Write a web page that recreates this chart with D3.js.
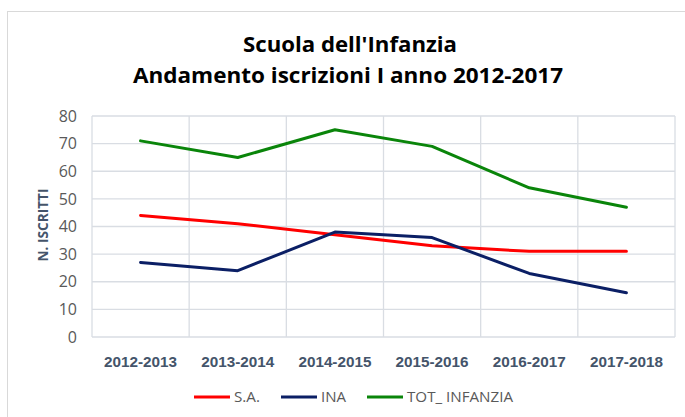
<!DOCTYPE html>
<html>
<head>
<meta charset="utf-8">
<script src="https://cdn.jsdelivr.net/npm/d3@7"></script>
<style>
  body { margin: 0; background: #fff; }
  svg { display: block; font-family: "Open Sans", "Noto Sans", sans-serif; }
</style>
</head>
<body>
<svg id="chart"></svg>
<script>
// data
const years = ['2012-2013','2013-2014','2014-2015','2015-2016','2016-2017','2017-2018']
const seriesNames = ['S.A.','INA','TOT_ INFANZIA']
const sa = [44, 41, 37, 33, 31, 31]
const ina = [27, 24, 38, 36, 23, 16]
const tot = [71, 65, 75, 69, 54, 47]
const yTicks = [0,10,20,30,40,50,60,70,80]
const colors = ['#ff0000', '#0b1f65', '#0a850a']

const W = 685, H = 417
const m = {left: 92, right: 675, top: 116, bottom: 337}

const svg = d3.select('#chart').attr('width', W).attr('height', H)

// outer chart frame
svg.append('rect')
  .attr('x', 7.5).attr('y', 11.5)
  .attr('width', W + 10).attr('height', H + 10)
  .attr('fill', 'none').attr('stroke', '#d9d9d9')

// titles
const title = svg.append('g').attr('font-weight', 'bold').attr('fill', '#000')
title.append('text').attr('x', 350).attr('y', 52)
  .attr('text-anchor', 'middle').attr('font-size', 22)
  .attr('textLength', 214).attr('lengthAdjust', 'spacingAndGlyphs')
  .text("Scuola dell'Infanzia")
title.append('text').attr('x', 348).attr('y', 83)
  .attr('text-anchor', 'middle').attr('font-size', 22)
  .attr('textLength', 430).attr('lengthAdjust', 'spacingAndGlyphs')
  .text('Andamento iscrizioni I anno 2012-2017')

const x = d3.scaleBand().domain(years).range([m.left, m.right])
const y = d3.scaleLinear().domain([0, 80]).range([m.bottom, m.top])

// grid
const grid = svg.append('g').attr('stroke', '#d9dde3').attr('stroke-width', 1.3)
grid.selectAll('.hg').data(yTicks).join('line')
  .attr('x1', m.left).attr('x2', m.right)
  .attr('y1', d => y(d)).attr('y2', d => y(d))
const vb = years.map(d => x(d)).concat([m.right])
grid.selectAll('.vg').data(vb).join('line')
  .attr('x1', d => d).attr('x2', d => d)
  .attr('y1', m.top).attr('y2', m.bottom)

// y axis labels
const yAxis = d3.axisLeft(y).tickValues(yTicks).tickSize(0).tickPadding(15)
const ya = svg.append('g').attr('transform', `translate(${m.left},0)`).call(yAxis)
ya.select('.domain').remove()
ya.selectAll('text').attr('font-size', 16).attr('fill', '#595959')
  .attr('font-family', '"Open Sans", sans-serif')

// x axis labels
const xAxis = d3.axisBottom(x).tickSize(0).tickPadding(20)
const xa = svg.append('g').attr('transform', `translate(0,${m.bottom})`).call(xAxis)
xa.select('.domain').remove()
xa.selectAll('text').attr('font-size', 14).attr('font-weight', 'bold')
  .attr('fill', '#44546a')
  .attr('textLength', 73).attr('lengthAdjust', 'spacingAndGlyphs')

// y title
svg.append('text')
  .attr('transform', 'translate(48,225) rotate(-90)')
  .attr('text-anchor', 'middle')
  .attr('font-size', 15).attr('font-weight', 'bold').attr('fill', '#44546a')
  .attr('textLength', 73).attr('lengthAdjust', 'spacingAndGlyphs')
  .text('N. ISCRITTI')

// lines
const line = d3.line()
  .x((d, i) => x(years[i]) + x.bandwidth() / 2)
  .y(d => y(d))
const all = [sa, ina, tot]
svg.selectAll('.series').data(all).join('path')
  .attr('class', 'series')
  .attr('d', d => line(d))
  .attr('fill', 'none')
  .attr('stroke', (d, i) => colors[i])
  .attr('stroke-width', 3)
  .attr('stroke-linejoin', 'round')
  .attr('stroke-linecap', 'round')

// legend
const legX = [194, 281, 367]
const legW = [26, 25, 106]
const leg = svg.append('g')
seriesNames.forEach((name, i) => {
  leg.append('line')
    .attr('x1', legX[i]).attr('x2', legX[i] + 36)
    .attr('y1', 397).attr('y2', 397)
    .attr('stroke', colors[i]).attr('stroke-width', 3)
  leg.append('text')
    .attr('x', legX[i] + 40).attr('y', 402)
    .attr('font-size', 14).attr('fill', '#595959')
    .attr('textLength', legW[i]).attr('lengthAdjust', 'spacingAndGlyphs')
    .text(name)
})
</script>
</body>
</html>
